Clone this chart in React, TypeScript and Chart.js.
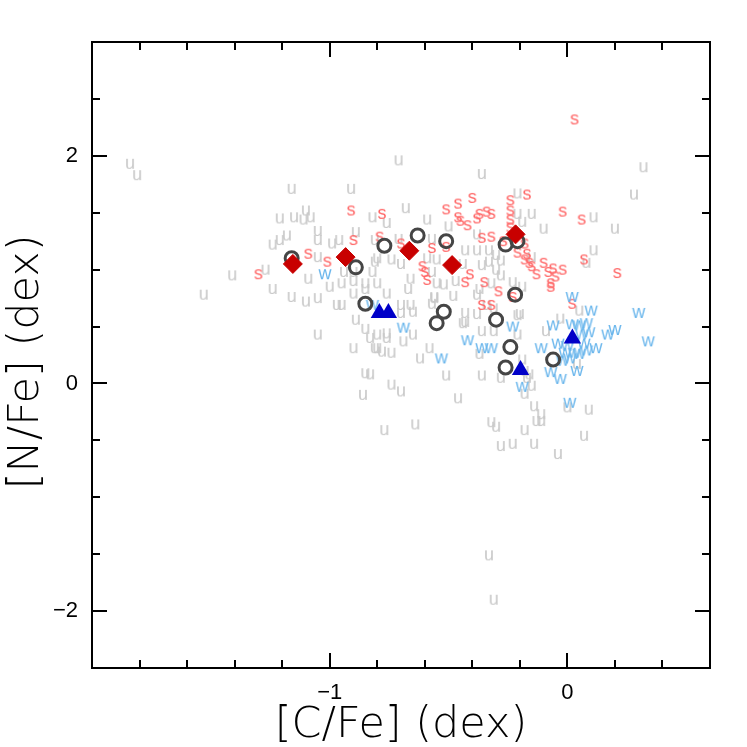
import React, { useEffect, useRef } from 'react';
import { Chart, registerables } from 'chart.js';

Chart.register(...registerables);

const X_MIN = -2.0;
const X_MAX = 0.6;
const Y_MIN = -2.5;
const Y_MAX = 3.0;

const xMajorTicks = [-1, 0];
const xMinorTicks = [-1.8, -1.6, -1.4, -1.2, -0.8, -0.6, -0.4, -0.2, 0.2, 0.4];
const yMajorTicks = [-2, 0, 2];
const yMinorTicks = [-1.5, -1, -0.5, 0.5, 1, 1.5, 2.5];

const xTitle = '[C/Fe] (dex)';
const yTitle = '[N/Fe] (dex) ';

// "u" stars (light gray letters)
const uPoints: [number, number][] = [
  [-1.84, 1.93], [-1.81, 1.83], [-1.53, 0.78], [-1.41, 0.95], [-1.27, 1.0], [-1.24, 1.22],
  [-1.21, 1.26], [-1.18, 1.3], [-1.16, 1.71], [-0.91, 1.71], [-1.1, 1.52], [-1.21, 1.45],
  [-1.15, 1.46], [-1.11, 1.44], [-1.08, 1.46], [-1.05, 1.34], [-1.05, 1.26], [-0.99, 1.23],
  [-0.96, 1.26], [-0.89, 1.33], [-1.05, 1.11], [-1.09, 0.92], [-0.94, 0.98], [-1.24, 0.83],
  [-1.0, 0.85], [-0.95, 0.88], [-1.16, 0.76], [-1.1, 0.72], [-1.05, 0.75], [-0.97, 0.69],
  [-0.95, 0.69], [-0.9, 0.79], [-0.85, 0.83], [-0.9, 0.98], [-0.81, 1.07], [-0.82, 1.46],
  [-0.89, 0.56], [-0.85, 0.48], [-0.83, 0.4], [-0.9, 0.31], [-0.81, 0.31], [-1.05, 0.43],
  [-0.85, 0.09], [-0.83, 0.08], [-0.86, -0.1], [-0.71, 1.96], [-0.36, 1.84], [-0.68, 1.54],
  [-0.76, 1.41], [-0.59, 1.44], [-0.5, 1.38], [-0.38, 1.31], [-0.81, 1.26], [-0.71, 1.27],
  [-0.57, 1.27], [-0.43, 1.17], [-0.38, 1.17], [-0.33, 1.17], [-0.3, 1.13], [-0.8, 1.1],
  [-0.74, 1.09], [-0.7, 1.05], [-0.55, 1.09], [-0.44, 1.05], [-0.36, 1.04], [-0.33, 1.07],
  [-0.28, 1.08], [-0.82, 0.98], [-0.66, 0.92], [-0.57, 0.98], [-0.55, 0.88], [-0.9, 0.9],
  [-0.85, 0.88], [-0.8, 0.88], [-0.76, 0.79], [-0.47, 0.9], [-0.3, 1.0], [-0.28, 0.95],
  [-0.32, 0.88], [0.32, 1.9], [0.28, 1.66], [-0.21, 1.67], [-0.21, 1.49], [-0.15, 1.49],
  [-0.19, 1.42], [-0.1, 1.36], [0.11, 1.46], [0.2, 1.36], [0.11, 1.17], [0.08, 1.06],
  [-0.59, 1.1], [-0.49, 1.03], [-0.67, 0.83], [-0.52, 0.87], [-0.37, 0.83], [-0.38, 0.78],
  [-0.56, 0.75], [-0.57, 0.7], [-0.43, 0.62], [-0.38, 0.61], [-0.34, 0.69], [-0.31, 0.66],
  [-0.43, 0.54], [-0.36, 0.46], [-0.31, 0.46], [-0.21, 0.6], [-0.21, 0.43], [-0.09, 0.46],
  [-0.03, 0.57], [0.05, 0.64], [-0.46, -0.13], [-0.36, 0.07], [-0.28, 0.05], [-0.17, 0.05],
  [-0.15, -0.02], [-0.18, -0.09], [-0.14, -0.2], [-0.11, -0.27], [-0.13, -0.33], [-0.11, -0.33],
  [0.0, -0.21], [0.09, -0.23], [0.07, -0.46], [-0.32, -0.34], [-0.3, -0.38], [-0.18, -0.41],
  [-0.64, -0.36], [-0.77, -0.41], [-0.28, -0.55], [-0.23, -0.53], [-0.14, -0.53], [-0.04, -0.62],
  [-0.33, -1.51], [-0.31, -1.9], [-0.74, -0.01], [-0.7, -0.07], [-0.62, 0.22], [-0.58, 0.31],
  [-0.51, 0.07], [-0.76, 0.44], [-0.78, 0.28], [-0.74, 0.27], [-0.69, 0.37], [-0.65, 0.43],
  [0.04, 0.17], [-0.19, 0.21], [-0.16, 0.08], [-0.8, 0.43], [-0.76, 0.4], [-0.8, 0.31],
  [-0.7, 0.69], [-0.66, 0.69], [-0.7, 0.62], [-0.65, 0.63], [-0.56, 0.76], [-0.48, 0.77],
  [-0.44, 0.53], [-0.37, 0.26], [-0.2, 0.61], [-0.18, 0.11], [-0.23, 0.89], [-0.19, 0.85],
  [-0.15, 1.11],
];

// "s" stars (red letters)
const sPoints: [number, number][] = [
  [-1.3, 0.96], [-1.09, 1.14], [-1.01, 1.07], [-0.91, 1.52], [-0.9, 1.26], [-0.78, 1.49],
  [-0.79, 1.29], [-0.7, 1.23], [-0.57, 1.19], [-0.61, 1.03], [-0.6, 0.98], [-0.59, 0.91],
  [-0.51, 1.53], [-0.46, 1.58], [-0.4, 1.63], [-0.46, 1.46], [-0.45, 1.43], [-0.42, 1.39],
  [-0.38, 1.45], [-0.37, 1.49], [-0.34, 1.51], [-0.32, 1.49], [-0.24, 1.61], [-0.24, 1.52],
  [-0.24, 1.44], [-0.24, 1.37], [-0.17, 1.66], [-0.36, 1.28], [-0.32, 1.29], [-0.41, 0.96],
  [-0.43, 0.89], [-0.35, 0.89], [-0.29, 0.81], [-0.23, 0.76], [-0.36, 0.69], [-0.32, 0.69],
  [-0.27, 1.25], [-0.18, 1.23], [-0.21, 1.15], [-0.17, 1.14], [-0.18, 1.09], [-0.16, 1.06],
  [-0.15, 1.03], [-0.1, 1.06], [-0.13, 0.96], [-0.08, 0.98], [-0.06, 1.01], [-0.02, 1.0],
  [-0.05, 0.94], [-0.07, 0.88], [-0.07, 0.85], [-0.02, 1.51], [0.06, 1.44], [0.07, 1.09],
  [0.21, 0.97], [0.02, 0.7], [0.03, 2.32], [-0.51, 1.2],
];

// "w" stars (light blue letters)
const wPoints: [number, number][] = [
  [-1.02, 0.96], [-0.82, 0.69], [-0.69, 0.49], [-0.53, 0.22], [-0.42, 0.38], [-0.36, 0.31],
  [-0.32, 0.31], [-0.23, 0.5], [-0.11, 0.31], [-0.06, 0.51], [0.02, 0.76], [0.02, 0.52],
  [0.05, 0.51], [0.08, 0.53], [0.1, 0.64], [0.09, 0.45], [0.06, 0.43], [0.17, 0.43],
  [0.2, 0.47], [0.3, 0.62], [0.34, 0.37], [-0.04, 0.35], [0.0, 0.33], [0.07, 0.35],
  [0.08, 0.29], [0.12, 0.31], [-0.01, 0.27], [0.03, 0.27], [0.01, 0.22], [-0.02, 0.2],
  [-0.07, 0.1], [0.04, 0.11], [-0.03, 0.04], [-0.19, -0.03], [0.01, -0.17], [0.05, 0.26],
];

// open circles
const circlePoints: [number, number][] = [
  [-1.16, 1.1], [-0.89, 1.02], [-0.77, 1.21], [-0.63, 1.3], [-0.51, 1.25], [-0.26, 1.22],
  [-0.21, 1.25], [-0.85, 0.7], [-0.55, 0.53], [-0.52, 0.63], [-0.22, 0.78], [-0.3, 0.56],
  [-0.24, 0.32], [-0.26, 0.14], [-0.06, 0.21],
];

// filled diamonds
const diamondPoints: [number, number][] = [
  [-1.155, 1.05], [-0.933, 1.11], [-0.665, 1.166], [-0.485, 1.04], [-0.218, 1.31],
];

// filled triangles
const trianglePoints: [number, number][] = [
  [-0.791, 0.618], [-0.753, 0.618], [-0.197, 0.118], [0.021, 0.395],
];

const toXY = (pts: [number, number][]) => pts.map(([x, y]) => ({ x, y }));

function letterImage(ch: string, color: string): HTMLCanvasElement {
  const c = document.createElement('canvas');
  c.width = 22;
  c.height = 22;
  const ctx = c.getContext('2d')!;
  ctx.font = '18px "Liberation Sans", Arial, sans-serif';
  ctx.fillStyle = color;
  ctx.textAlign = 'center';
  ctx.textBaseline = 'alphabetic';
  ctx.fillText(ch, 11, 11 + 4.6);
  return c;
}

const fmt = (v: number) => (v < 0 ? '\u2212' + Math.abs(v) : String(v));

const framePlugin = {
  id: 'frameTicks',
  afterDraw(chart: any) {
    const { ctx, chartArea: a } = chart;
    const xs = chart.scales.x;
    const ys = chart.scales.y;
    ctx.save();
    ctx.strokeStyle = '#000';
    ctx.lineWidth = 2;
    ctx.lineCap = 'butt';
    ctx.strokeRect(a.left, a.top, a.right - a.left, a.bottom - a.top);
    const drawX = (vals: number[], len: number) => {
      vals.forEach((v) => {
        const px = Math.round(xs.getPixelForValue(v));
        ctx.beginPath();
        ctx.moveTo(px, a.bottom);
        ctx.lineTo(px, a.bottom - len);
        ctx.moveTo(px, a.top);
        ctx.lineTo(px, a.top + len);
        ctx.stroke();
      });
    };
    const drawY = (vals: number[], len: number) => {
      vals.forEach((v) => {
        const py = Math.round(ys.getPixelForValue(v));
        ctx.beginPath();
        ctx.moveTo(a.left, py);
        ctx.lineTo(a.left + len, py);
        ctx.moveTo(a.right, py);
        ctx.lineTo(a.right - len, py);
        ctx.stroke();
      });
    };
    drawX(xMajorTicks, 15);
    drawX(xMinorTicks, 8);
    drawY(yMajorTicks, 15);
    drawY(yMinorTicks, 8);
    ctx.restore();
  },
};

export default function App() {
  const ref = useRef<HTMLCanvasElement | null>(null);

  useEffect(() => {
    const canvas = ref.current;
    if (!canvas) return;
    const uImg = letterImage('u', '#c8c8c8');
    const sImg = letterImage('s', '#ff6666');
    const wImg = letterImage('w', '#6ab6ec');

    const tickFont = { family: '"Liberation Sans", Arial, sans-serif', size: 22 };
    const titleFont = { family: '"DejaVu Sans", sans-serif', size: 43, weight: '200', lineHeight: 1 };

    const chart = new Chart(canvas, {
      type: 'scatter',
      data: {
        datasets: [
          {
            label: 'triangles',
            data: toXY(trianglePoints),
            pointStyle: 'triangle',
            pointRadius: 10,
            backgroundColor: '#0000c8',
            borderColor: '#0000c8',
            borderWidth: 0,
          },
          {
            label: 'diamonds',
            data: toXY(diamondPoints),
            pointStyle: 'rectRot',
            pointRadius: 9.5,
            backgroundColor: '#c80000',
            borderColor: '#c80000',
            borderWidth: 1,
          },
          {
            label: 'circles',
            data: toXY(circlePoints),
            pointStyle: 'circle',
            pointRadius: 6.5,
            backgroundColor: 'rgba(0,0,0,0)',
            borderColor: '#454545',
            borderWidth: 3,
          },
          {
            label: 'w',
            data: toXY(wPoints),
            pointStyle: wImg as any,
            pointRadius: 5,
          },
          {
            label: 's',
            data: toXY(sPoints),
            pointStyle: sImg as any,
            pointRadius: 5,
          },
          {
            label: 'u',
            data: toXY(uPoints),
            pointStyle: uImg as any,
            pointRadius: 5,
          },
        ],
      },
      options: {
        animation: false,
        responsive: false,
        devicePixelRatio: 1,
        events: [],
        layout: { padding: { left: 0, right: 37, top: 42, bottom: 0 } },
        plugins: { legend: { display: false }, tooltip: { enabled: false } },
        scales: {
          x: {
            type: 'linear',
            min: X_MIN,
            max: X_MAX,
            afterBuildTicks: (s: any) => {
              s.ticks = xMajorTicks.map((v) => ({ value: v }));
            },
            afterFit: (s: any) => {
              s.height = 79;
            },
            grid: { display: false, drawTicks: false },
            border: { display: false },
            ticks: {
              padding: 12,
              color: '#000',
              font: tickFont,
              maxRotation: 0,
              autoSkip: false,
              callback: (v: any) => fmt(Number(v)),
            },
            title: {
              display: true,
              text: xTitle,
              color: '#000',
              font: titleFont,
              padding: { top: 0, bottom: 0 },
            },
          },
          y: {
            type: 'linear',
            min: Y_MIN,
            max: Y_MAX,
            afterBuildTicks: (s: any) => {
              s.ticks = yMajorTicks.map((v) => ({ value: v }));
            },
            afterFit: (s: any) => {
              s.width = 92;
            },
            grid: { display: false, drawTicks: false },
            border: { display: false },
            ticks: {
              padding: 14,
              color: '#000',
              font: tickFont,
              autoSkip: false,
              callback: (v: any) => fmt(Number(v)),
            },
            title: {
              display: true,
              text: yTitle,
              color: '#000',
              font: titleFont,
              padding: { top: 5, bottom: 0 },
            },
          },
        },
      },
      plugins: [framePlugin],
    });
    return () => chart.destroy();
  }, []);

  return (
    <div style={{ position: 'absolute', left: 0, top: 0, width: 747, height: 747, background: '#fff' }}>
      <canvas ref={ref} width={747} height={747} style={{ display: 'block' }} />
    </div>
  );
}
